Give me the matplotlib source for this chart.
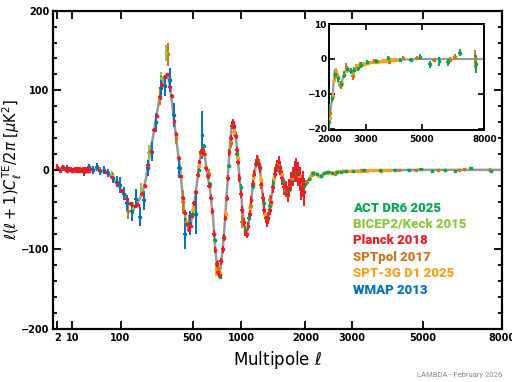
import numpy as np
import matplotlib
matplotlib.use('Agg')
import matplotlib.pyplot as plt

plt.rcParams['font.family'] = ['DejaVu Sans']
plt.rcParams['mathtext.fontset'] = 'dejavusans'

# grey model line
th_l = [2, 4, 7, 12, 20, 30, 40, 50, 60, 70, 80, 90, 100, 110, 120, 130, 140, 150, 160, 170,
        180, 190, 200, 210, 220, 235, 250, 262, 281, 300, 311, 322, 335, 354, 370, 384, 397, 407, 424, 440,
        455, 465, 480, 500, 516, 531, 545, 560, 575, 590, 605, 620, 635, 651, 667, 683, 707, 725, 741, 760,
        786, 805, 823, 840, 860, 880, 898, 915, 935, 957, 980, 999, 1020, 1040, 1062, 1085, 1105, 1128, 1150, 1172,
        1195, 1218, 1240, 1265, 1289, 1315, 1335, 1354, 1375, 1400, 1439, 1475, 1500, 1517, 1540, 1575, 1615, 1650, 1682, 1720,
        1760, 1795, 1828, 1860, 1900, 1940, 1975, 2000, 2040, 2080, 2110, 2140, 2170, 2200, 2240, 2270, 2310, 2350, 2400, 2450,
        2520, 2570, 2610, 2660, 2720, 2820, 3000, 3350, 3900, 4500, 5000, 8000]
th_v = [3, 1.5, 0.5, 0.3, 0.8, 1.2, 0.8, -0.5, -3, -7, -12, -18, -24, -30, -37, -42, -45, -46, -43, -37,
        -30, -22, -10, 8, 22, 42, 64, 79, 105, 117, 119, 116, 103, 73, 47, 27, 8, -6, -38, -58,
        -70, -74, -70, -55, -38, -22, -5, 12, 22, 25, 18, 2, -10, -21, -40, -58, -100, -122, -132, -125,
        -96, -70, -38, -7, 25, 50, 60, 55, 40, 13, -12, -33, -55, -72, -79, -72, -58, -38, -18, -4,
        8, 12, 6, -12, -33, -53, -61, -63, -58, -45, -21, -3, 6, 8, 5, -5, -19, -25, -27, -22,
        -13, -5, -2, -5, -13, -19, -20, -17.5, -14, -10.5, -6, -3, -3, -4.5, -7, -8, -7, -5, -3.5, -2.8,
        -3, -3.8, -4, -3.2, -2.3, -1.6, -1.2, -0.8, -0.3, -0.1, 0, 0]

# WMAP 2013
wmap_l = [4, 6, 10, 15, 22, 28, 34, 41, 47, 57, 66, 77, 88, 98, 110, 122, 138, 154, 172, 191,
          210, 230, 253, 276, 301, 332, 360, 395, 437, 480, 531, 583]
wmap_v = [2, 2, -1, 1, -3, 3, 0, 4, -2, 0, -4, -10, -15, -19, -30, -42, -52, -36, -59, -38,
          2, 23, 60, 103, 105, 113, 69, 2, -80, -67, -55, 44]
wmap_e = [4, 4, 3, 3, 5, 4, 5, 5, 5, 5, 5, 6, 7, 10, 8, 10, 12, 12, 12, 12,
          10, 12, 12, 15, 12, 15, 15, 12, 20, 15, 25, 30]

# BICEP2/Keck 2015
bicep_l = [44, 75, 110, 144, 179, 215, 249, 281, 311]
bicep_v = [2, -6, -30, -48, -25, 21, 60, 115, 147]
bicep_e = [4, 5, 8, 8, 8, 10, 10, 8, 10]

# Planck 2018, unbinned low ell
plow_l = [2, 3, 4, 5, 6, 7, 8, 9, 10, 11, 12, 13, 14, 15, 16, 17, 18, 19, 20, 21,
          22, 23, 24, 25, 26, 27, 28, 29]
plow_v = [4, -1, 3, 1, -2, 2, 0, 1, -1, 0, 1, -2, 2, 0, -1, 1, 0, -2, 1, 0,
          -3, 1, -1, 0, 2, -2, -1, 1]
plow_e = [3, 3, 3, 3, 2, 2, 2, 2, 2, 2, 2, 2, 2, 2, 2, 2, 2, 2, 2, 2,
          2, 2, 2, 2, 2, 2, 2, 2]

# Planck 2018, binned
planck_l = [30, 45, 60, 75, 90, 105, 120, 135, 150, 165, 180, 195, 210, 225, 240, 255, 270, 285, 300, 317,
            332, 347, 362, 377, 392, 407, 422, 437, 452, 467, 482, 497, 512, 527, 542, 557, 572, 587, 602, 617,
            632, 647, 662, 677, 692, 707, 722, 737, 752, 767, 782, 797, 812, 827, 842, 857, 872, 887, 902, 917,
            932, 947, 962, 977, 992, 1010, 1030, 1050, 1070, 1090, 1110, 1130, 1150, 1170, 1190, 1210, 1230, 1250, 1270, 1290,
            1310, 1330, 1350, 1370, 1390, 1410, 1440, 1470, 1500, 1530, 1560, 1590, 1620, 1650, 1680, 1710, 1740, 1770, 1800, 1830,
            1860, 1890, 1920, 1950, 1980]
planck_v = [1, 0, -3, -9, -17, -26, -37, -43, -46, -44, -30, -20, 6, 23, 50, 68, 92, 107, 117, 120,
            104, 93, 62, 45, 15, -8, -35, -54, -68, -75, -70, -58, -42, -28, -6, 10, 22, 25, 20, 2,
            -8, -20, -35, -52, -80, -101, -118, -128, -132, -115, -100, -85, -60, -35, -10, 22, 40, 55, 60, 55,
            43, 25, 10, -10, -30, -50, -65, -78, -80, -70, -55, -38, -18, -5, 8, 13, 8, 2, -18, -35,
            -50, -60, -65, -60, -50, -40, -22, -5, 5, 10, 2, -10, -22, -24, -30, -23, -15, -8, -2, 0,
            -5, -12, -22, -18, -28]
planck_e = [2, 2, 2, 2, 2, 2, 2, 2, 2, 2, 2, 2, 2, 2, 2, 2, 2, 2, 2, 2,
            2, 2, 2, 2, 2, 2, 2, 3, 3, 3, 3, 3, 3, 3, 3, 3, 3, 3, 3, 3,
            3, 3, 3, 4, 4, 4, 4, 4, 4, 4, 4, 4, 4, 4, 4, 4, 4, 4, 4, 4,
            4, 4, 4, 5, 5, 5, 5, 5, 5, 5, 5, 5, 5, 5, 5, 6, 6, 6, 6, 6,
            6, 6, 7, 7, 7, 7, 7, 8, 8, 8, 9, 9, 10, 10, 10, 11, 12, 12, 13, 15,
            15, 15, 16, 16, 18]

# SPTpol 2017
sptpol_l = [125, 272, 321, 377, 424, 468, 570, 640, 735, 871, 1010, 1120, 1218, 1262, 1394, 1540,
            1700, 1900, 2030, 2150, 2300, 2430, 2610, 2820, 3250, 3750, 4270, 4790, 5500, 6260, 6480, 7500]
sptpol_v = [-52, 92, 145, 40, -40, -65, 20, -5, -123, 34, -65, -45, 12, -19, -38, 2,
            -22, -12, -15.5, -5, -7.5, -2.2, -5, -1.6, -0.7, -0.8, 0.2, 0.3, -0.3, -0.2, 0.5, 0]
sptpol_e = [10, 10, 15, 8, 15, 8, 6, 6, 10, 6, 8, 6, 5, 5, 6, 6,
            8, 8, 1.5, 1.2, 1.0, 1.0, 1.0, 0.8, 0.7, 0.7, 0.6, 0.6, 0.7, 0.8, 0.8, 2.5]

# SPT-3G D1 2025
spt3g_l = [450, 500, 550, 610, 650, 717, 760, 815, 871, 910, 957, 1010, 1060, 1112, 1158, 1210, 1262, 1320, 1360, 1412,
           1460, 1520, 1580, 1640, 1700, 1760, 1820, 1880, 1940, 2010, 2082, 2120, 2170, 2220, 2270, 2320, 2375, 2430, 2490, 2550,
           2610, 2660, 2700, 2770, 2840, 2910, 2980, 3060, 3140, 3220, 3300, 3380, 3460, 3540, 3620, 3700, 3780, 3860, 3940, 4010]
spt3g_v = [-65, -50, 5, 20, -20, -125, -130, -55, 35, 48, 15, -50, -78, -48, -10, 12, -13, -55, -62, -43,
           -12, 8, -5, -25, -24, -12, -2, -8, -18, -17, -10.5, -6, -3.5, -4.8, -7.5, -7, -4.5, -3.5, -3, -3.3,
           -4, -3, -2, -1.8, -1.8, -1.5, -1.5, -1.2, -1, -1, -0.9, -0.8, -0.7, -0.6, -0.5, -0.4, -0.3, -0.3, -0.2, -0.2]
spt3g_e = [5, 4, 4, 4, 4, 8, 6, 5, 5, 5, 5, 5, 5, 5, 5, 5, 5, 5, 5, 5,
           5, 5, 5, 5, 6, 6, 6, 6, 7, 1.0, 0.9, 0.8, 0.8, 0.8, 0.7, 0.7, 0.7, 0.6, 0.6, 0.6,
           0.6, 0.6, 0.5, 0.5, 0.5, 0.5, 0.5, 0.5, 0.5, 0.5, 0.5, 0.5, 0.5, 0.5, 0.5, 0.5, 0.5, 0.5, 0.5, 0.5]

# ACT DR6 2025
act_l = [400, 450, 500, 550, 600, 650, 700, 750, 800, 850, 900, 950, 1000, 1050, 1100, 1150, 1200, 1250, 1300, 1350,
         1400, 1450, 1500, 1550, 1600, 1650, 1700, 1750, 1800, 1850, 1900, 1950, 2000, 2075, 2150, 2225, 2300, 2375, 2450, 2550,
         2650, 2750, 2850, 3030, 3300, 3718, 4148, 4557, 4930, 5325, 5752, 6138, 6716, 7560]
act_v = [2, -68, -56, 0, 30, -18, -88, -134, -84, 5, 58, 20, -22, -75, -60, -20, 10, 4, -42, -63,
         -45, -16, 6, 3, -14, -27, -25, -14, -4, -3, -12, -20, -18, -11.3, -4.3, -5.5, -7.2, -4.5, -3, -3.5,
         -3.2, -2.5, -1.8, -1, -0.5, 0.3, -0.3, -0.4, 0.7, -1.5, -0.7, -1, 1.8, -1.5]
act_e = [3, 3, 3, 3, 3, 3, 3, 3, 3, 3, 3, 3, 4, 4, 4, 4, 4, 4, 4, 4,
         4, 4, 4, 5, 5, 5, 5, 5, 5, 5, 5, 5, 5, 1.0, 1.0, 1.0, 1.0, 1.0, 1.0, 0.8,
         0.8, 0.8, 0.8, 0.6, 0.5, 0.5, 0.5, 0.6, 0.6, 1.0, 1.2, 1.0, 1.0, 2.5]

legend_names = ['ACT DR6 2025', 'BICEP2/Keck 2015', 'Planck 2018', 'SPTpol 2017', 'SPT-3G D1 2025', 'WMAP 2013']
legend_colors = ['#00a651', '#8dc63f', '#ed1c24', '#c8781e', '#f7a21b', '#0072bc']
col = dict(zip(legend_names, legend_colors))

xticks = [2, 10, 100, 500, 1000, 2000, 3000, 5000, 8000]
inset_xticks = [2000, 3000, 5000, 8000]

narrow = ['Roboto', 'DejaVu Sans']


def fwd(x):
    return np.sign(x) * np.abs(x) ** 0.4


def inv(u):
    return np.sign(u) * np.abs(u) ** 2.5


def binwidth(l, d=0.14):
    l = np.asarray(l, float)
    u = fwd(l)
    return np.vstack([l - inv(u - d), inv(u + d) - l])


sets = [
    (spt3g_l, spt3g_v, spt3g_e, 'SPT-3G D1 2025'),
    (sptpol_l, sptpol_v, sptpol_e, 'SPTpol 2017'),
    (act_l, act_v, act_e, 'ACT DR6 2025'),
    (bicep_l, bicep_v, bicep_e, 'BICEP2/Keck 2015'),
    (wmap_l, wmap_v, wmap_e, 'WMAP 2013'),
    (plow_l, plow_v, plow_e, 'Planck 2018'),
    (planck_l, planck_v, planck_e, 'Planck 2018'),
]


def draw(ax, lw_line):
    ax.plot(th_l, th_v, color='#999999', lw=lw_line, zorder=2)
    for l, v, e, name in sets:
        ax.errorbar(l, v, yerr=e, xerr=binwidth(l), fmt='s', ms=2.0, color=col[name],
                    ecolor=col[name], elinewidth=1.4, capsize=0, zorder=3)


def style_ticks(labels, size):
    for t in labels:
        t.set_fontweight('bold')
        t.set_fontsize(size)


fig = plt.figure(figsize=(5.12, 3.82), dpi=100)
ax = fig.add_axes([0.1041, 0.1387, 0.8758, 0.8332])
ax.set_xscale('function', functions=(fwd, inv))
draw(ax, 1.8)
ax.set_xlim(1, 8000)
ax.set_ylim(-200, 200)
ax.set_xticks(xticks)
ax.set_xticklabels([str(t) for t in xticks])
ax.set_yticks([-200, -100, 0, 100, 200])
ax.set_yticklabels(['\u2212200', '\u2212100', '0', '100', '200'])
style_ticks(ax.get_xticklabels() + ax.get_yticklabels(), 7)
ax.set_yticks(np.arange(-200, 201, 20), minor=True)
ax.xaxis.set_minor_locator(matplotlib.ticker.NullLocator())
ax.tick_params(which='both', direction='in', top=True, right=True, width=1.3)
ax.tick_params(which='major', length=6, pad=3)
ax.tick_params(which='minor', length=3)
for s in ax.spines.values():
    s.set_linewidth(1.6)
ax.set_xlabel(r'Multipole $\ell$', fontsize=12, labelpad=4)
ax.set_ylabel(r'$\ell(\ell+1)C_\ell^{\rm TE}/2\pi\ [\mu{\rm K}^2]$', fontsize=10.5)
ax.yaxis.set_label_coords(-0.066, 0.5)

for i, (name, c) in enumerate(zip(legend_names, legend_colors)):
    ax.text(0.668, 0.380 - i * 0.0515, name, transform=ax.transAxes, color=c,
            fontsize=9.5, fontweight='black', va='center', ha='left', family=narrow)

# inset on the damping tail
axi = fig.add_axes([0.643, 0.660, 0.303, 0.277])
axi.set_xscale('function', functions=(fwd, inv))
draw(axi, 1.5)
axi.set_xlim(2000, 8000)
axi.set_ylim(-20.3, 10)
axi.set_xticks(inset_xticks)
axi.set_xticklabels([str(t) for t in inset_xticks])
axi.set_yticks([-20, -10, 0, 10])
axi.set_yticklabels(['\u221220', '\u221210', '0', '10'])
style_ticks(axi.get_xticklabels() + axi.get_yticklabels(), 6.5)
axi.xaxis.set_minor_locator(matplotlib.ticker.NullLocator())
axi.tick_params(direction='in', top=True, right=True, length=4, width=1.2, pad=2)
axi.tick_params(axis='x', pad=4)
for s in axi.spines.values():
    s.set_linewidth(1.4)

fig.text(502 / 512, 1 - 375 / 382, 'LAMBDA - February 2026', ha='right', va='center',
         fontsize=5.5, color='#8a8a8a', family=narrow)

fig.savefig('out.png', dpi=100)
